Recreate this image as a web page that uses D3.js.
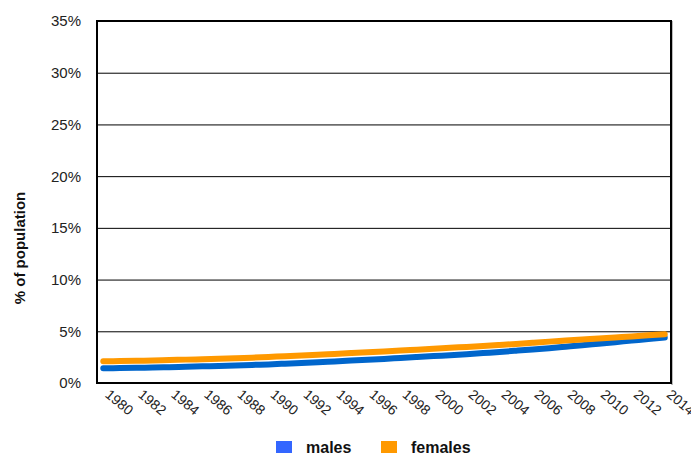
<!DOCTYPE html>
<html><head><meta charset="utf-8">
<script src="https://cdn.jsdelivr.net/npm/d3@7/dist/d3.min.js"></script>
<style>body{margin:0;background:#fff}svg{display:block;font-family:"Liberation Sans",Arial,sans-serif}</style>
</head><body>
<svg id="c" width="691" height="455"></svg>
<script>
const years = d3.range(1980, 2015);
const males = [1.42,1.44,1.47,1.50,1.53,1.57,1.61,1.65,1.70,1.75,1.80,1.87,1.94,2.01,2.09,2.17,2.25,2.33,2.42,2.51,2.60,2.69,2.78,2.89,3.00,3.12,3.24,3.37,3.51,3.65,3.80,3.95,4.10,4.25,4.39];
const females = [2.10,2.12,2.15,2.18,2.22,2.26,2.30,2.35,2.40,2.45,2.52,2.59,2.66,2.73,2.81,2.89,2.97,3.05,3.14,3.22,3.31,3.40,3.49,3.58,3.68,3.78,3.89,4.00,4.10,4.20,4.30,4.40,4.50,4.61,4.71];
const yTicks = [0,5,10,15,20,25,30,35];
const xTickLabels = years.filter(y => y % 2 === 0);
const seriesNames = ["males","females"];
const lineColors = ["#0066cc","#ff9900"];
const legendColors = ["#3366ff","#ff9900"];

const svg = d3.select("#c");
const L = 97, R = 671, T = 21, B = 383;
const x = d3.scalePoint().domain(years).range([L, R]).padding(0.38);
const y = d3.scaleLinear().domain([0, 35]).range([B, T]);

// gridlines
svg.append("g").selectAll("line").data(yTicks.filter(t => t > 0 && t < 35)).join("line")
  .attr("x1", L).attr("x2", R).attr("y1", d => y(d) + 0.5).attr("y2", d => y(d) + 0.5)
  .attr("stroke", "#000").attr("stroke-width", 1);

// y labels
svg.append("g").selectAll("text").data(yTicks).join("text")
  .attr("x", 81).attr("y", d => y(d)).attr("dy", "0.36em")
  .attr("text-anchor", "end").attr("font-size", 15).attr("fill", "#222")
  .text(d => d + "%");

// border
svg.append("rect").attr("x", R).attr("y", T).attr("width", 2).attr("height", B - T + 2).attr("fill", "#bbb");
svg.append("rect").attr("x", L).attr("y", T).attr("width", R - L).attr("height", B - T)
  .attr("fill", "none").attr("stroke", "#000").attr("stroke-width", 2);

// lines
const data = [males, females];
const line = d3.line().x((d, i) => x(years[i])).y(d => y(d)).curve(d3.curveMonotoneX);
svg.append("g").selectAll("path").data(data).join("path")
  .attr("d", d => line(d)).attr("fill", "none")
  .attr("stroke", (d, i) => lineColors[i]).attr("stroke-width", 6)
  .attr("stroke-linecap", "round").attr("stroke-linejoin", "round");

// x labels
svg.append("g").selectAll("text").data(xTickLabels).join("text")
  .attr("transform", d => `translate(${x(d) + 1},${396}) rotate(40)`)
  .attr("font-size", 14).attr("fill", "#222").text(d => d);

// y title
svg.append("text").attr("transform", "translate(25,248) rotate(-90)")
  .attr("text-anchor", "middle").attr("font-size", 15).attr("font-weight", "bold")
  .attr("fill", "#111").text("% of population");

// legend
const leg = svg.append("g");
const legX = [276, 381];
seriesNames.forEach((n, i) => {
  leg.append("rect").attr("x", legX[i]).attr("y", 441).attr("width", 16).attr("height", 12).attr("fill", legendColors[i]);
  leg.append("text").attr("x", legX[i] + 30).attr("y", 453).attr("font-size", 16)
    .attr("font-weight", "bold").attr("fill", "#111").text(n);
});
</script>
</body></html>
